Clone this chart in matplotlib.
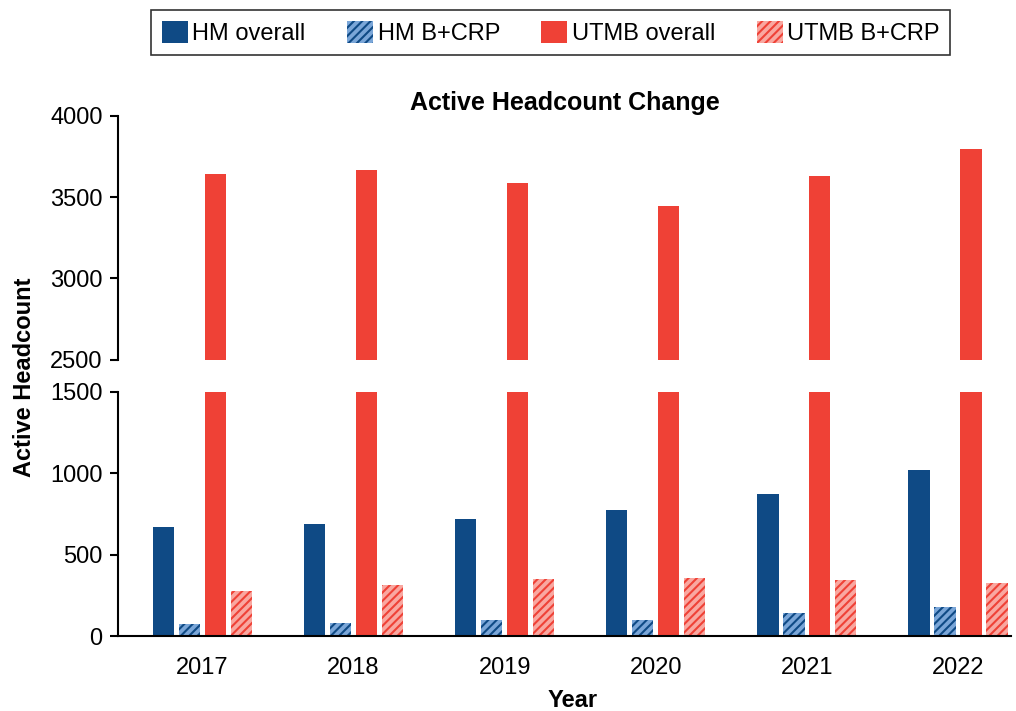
import numpy as np
import matplotlib
matplotlib.use("Agg")
import matplotlib.pyplot as plt
from matplotlib.patches import Patch

plt.rcParams["font.family"] = ["Liberation Sans", "DejaVu Sans"]
plt.rcParams["hatch.linewidth"] = 1.5

# ---------------------------------------------------------------------------
# Data
# ---------------------------------------------------------------------------
years = ["2017", "2018", "2019", "2020", "2021", "2022"]
hm_overall = [671, 691, 718, 772, 874, 1020]
hm_bcrp = [73, 81, 98, 102, 142, 183]
utmb_overall = [3645, 3666, 3588, 3447, 3631, 3795]
utmb_bcrp = [280, 317, 350, 356, 346, 325]

NAVY = "#0f4a85"
LIGHT_BLUE = "#7aa6d8"
RED = "#ef4136"
LIGHT_RED = "#f9a7a0"

x = np.arange(len(years))
w = 0.14
offsets = [-0.258, -0.086, 0.086, 0.258]

fig = plt.figure(figsize=(10.16, 7.11), dpi=100)
ax_top = fig.add_axes([0.116, 0.494, 0.879, 0.343])
ax_bot = fig.add_axes([0.116, 0.105, 0.879, 0.344])


def draw(ax):
    ax.bar(x + offsets[0], hm_overall, w, color=NAVY, lw=0)
    ax.bar(x + offsets[1], hm_bcrp, w, facecolor=LIGHT_BLUE, edgecolor=NAVY,
           hatch="////", lw=0)
    ax.bar(x + offsets[2], utmb_overall, w, color=RED, lw=0)
    ax.bar(x + offsets[3], utmb_bcrp, w, facecolor=LIGHT_RED, edgecolor=RED,
           hatch="////", lw=0)


draw(ax_top)
draw(ax_bot)

for ax in (ax_top, ax_bot):
    ax.set_xlim(-0.56, 5.35)
    for s in ("top", "right"):
        ax.spines[s].set_visible(False)
    ax.spines["left"].set_linewidth(1.5)
    ax.tick_params(axis="y", labelsize=17, width=1.5, length=6, pad=5)

ax_top.set_ylim(2500, 4000)
ax_top.set_yticks([2500, 3000, 3500, 4000])
ax_top.spines["bottom"].set_visible(False)
ax_top.tick_params(axis="x", bottom=False, labelbottom=False)
ax_top.set_title("Active Headcount Change", fontsize=18, fontweight="bold", pad=4)

ax_bot.set_ylim(0, 1500)
ax_bot.set_yticks([0, 500, 1000, 1500])
ax_bot.set_xticks(x)
ax_bot.set_xticklabels(years)
ax_bot.spines["bottom"].set_linewidth(1.5)
ax_bot.tick_params(axis="x", labelsize=17, length=0, pad=15)
ax_bot.set_xlabel("Year", fontsize=17, fontweight="bold")
ax_bot.xaxis.set_label_coords(0.509, -0.215)

fig.text(0.024, 0.469, "Active Headcount", rotation=90, ha="center", va="center",
         fontsize=17, fontweight="bold")

handles = [
    Patch(facecolor=NAVY, lw=0),
    Patch(facecolor=LIGHT_BLUE, edgecolor=NAVY, hatch="////", lw=0),
    Patch(facecolor=RED, lw=0),
    Patch(facecolor=LIGHT_RED, edgecolor=RED, hatch="////", lw=0),
]
labels = ["HM overall", "HM B+CRP", "UTMB overall", "UTMB B+CRP"]
leg = fig.legend(handles, labels, loc="center", bbox_to_anchor=(0.542, 0.954),
                 ncol=4, fontsize=17, frameon=True, fancybox=False,
                 edgecolor="black", handlelength=1.1, handleheight=1.05,
                 handletextpad=0.2, columnspacing=1.75, borderpad=0.45)
leg.get_frame().set_linewidth(1.2)

fig.savefig("out.png", dpi=100)
